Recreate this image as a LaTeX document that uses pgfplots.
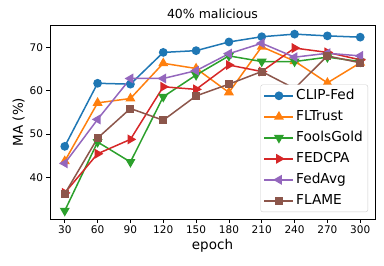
\documentclass[border=0pt]{standalone}
\usepackage{fontspec}
\setmainfont{DejaVu Sans}
\usepackage{pgfplots}
\pgfplotsset{compat=1.18}
\definecolor{c0}{HTML}{1F77B4}
\definecolor{c1}{HTML}{FF7F0E}
\definecolor{c2}{HTML}{2CA02C}
\definecolor{c3}{HTML}{D62728}
\definecolor{c4}{HTML}{9467BD}
\definecolor{c5}{HTML}{8C564B}
\begin{document}
\begin{tikzpicture}[x=1bp,y=1bp]
\useasboundingbox (-50,-47) rectangle (334,219);
\begin{axis}[
  at={(0,0)}, anchor=south west,
  scale only axis, width=325bp, height=194bp,
  xmin=16.5, xmax=313.5, ymin=30.5, ymax=75.1,
  xtick={30,60,...,300}, ytick={40,50,60,70},
  tick align=outside, xtick pos=bottom, ytick pos=left,
  major tick length=3.5bp,
  tick style={black, line width=0.8bp},
  axis line style={line width=0.8bp},
  /pgf/number format/assume math mode=true,
  ticklabel style={font=\fontsize{10.5bp}{12bp}\selectfont},
  title={40\% malicious},
  title style={font=\fontsize{12.5bp}{14bp}\selectfont, yshift=-3bp},
  xlabel={epoch}, ylabel={MA (\%)},
  label style={font=\fontsize{13.5bp}{15bp}\selectfont},
  xlabel style={yshift=2bp},
  ylabel style={yshift=-2bp},
  every axis plot/.append style={line width=1.5bp, mark size=3.6bp},
  legend cell align=left,
  legend style={at={(1,0)}, anchor=south east, xshift=-7bp, yshift=7bp,
    font=\fontsize{13.7bp}{15bp}\selectfont, draw=black!20, rounded corners=2bp,
    row sep=4bp, inner xsep=3bp, inner ysep=2.5bp,
    nodes={inner sep=2bp, text height=10bp, text depth=3bp}},
  legend image code/.code={\draw[mark repeat=2,mark phase=2] plot coordinates {(0bp,0bp) (14.5bp,0bp) (29bp,0bp)};},
]
\addplot[c0, mark=*] coordinates {(30,47.2)(60,61.7)(90,61.5)(120,68.8)(150,69.2)(180,71.2)(210,72.4)(240,73.0)(270,72.6)(300,72.3)};
\addlegendentry{CLIP-Fed}
\addplot[c1, mark=triangle*, mark options={scale=1.2}] coordinates {(30,43.8)(60,57.2)(90,58.2)(120,66.3)(150,65.1)(180,59.6)(210,70.1)(240,66.8)(270,61.8)(300,66.4)};
\addlegendentry{FLTrust}
\addplot[c2, mark=triangle*, mark options={rotate=180,scale=1.2}] coordinates {(30,32.4)(60,48.2)(90,43.6)(120,58.6)(150,63.6)(180,68.0)(210,66.7)(240,66.7)(270,67.7)(300,66.7)};
\addlegendentry{FoolsGold}
\addplot[c3, mark=triangle*, mark options={rotate=-90,scale=1.2}] coordinates {(30,36.5)(60,45.5)(90,48.8)(120,60.9)(150,60.3)(180,65.9)(210,64.4)(240,69.8)(270,68.8)(300,67.1)};
\addlegendentry{FEDCPA}
\addplot[c4, mark=triangle*, mark options={rotate=90,scale=1.2}] coordinates {(30,43.3)(60,53.4)(90,62.8)(120,62.8)(150,64.6)(180,68.5)(210,70.9)(240,67.7)(270,68.6)(300,68.0)};
\addlegendentry{FedAvg}
\addplot[c5, mark=square*, mark options={scale=0.9}] coordinates {(30,36.3)(60,49.1)(90,55.9)(120,53.2)(150,58.8)(180,61.5)(210,64.4)(240,60.5)(270,68.0)(300,66.4)};
\addlegendentry{FLAME}
\end{axis}
\end{tikzpicture}
\end{document}
